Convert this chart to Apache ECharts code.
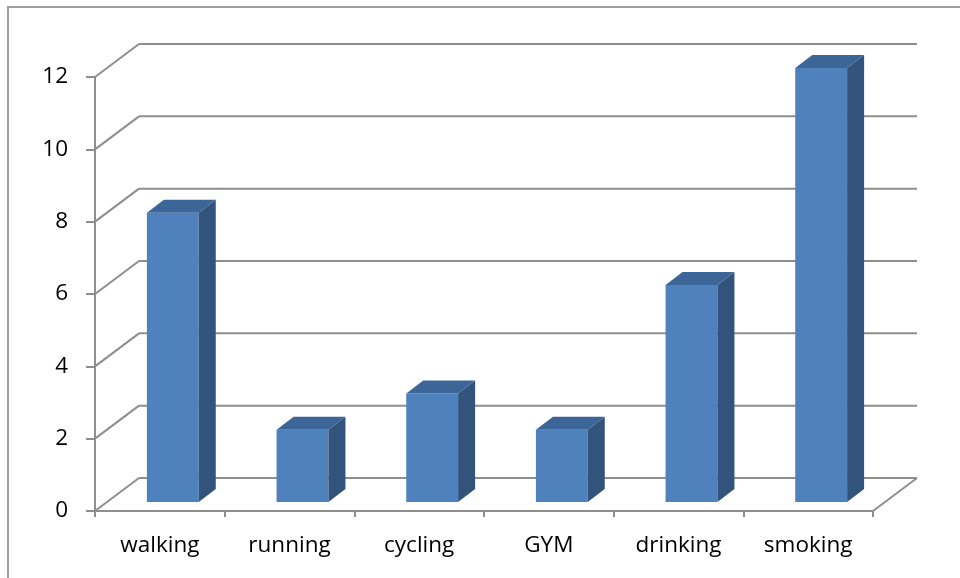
<!DOCTYPE html>
<html>
<head>
<meta charset="utf-8">
<script src="https://cdn.jsdelivr.net/npm/echarts@6/dist/echarts.min.js"></script>
<style>
  html, body { margin: 0; padding: 0; background: #ffffff; }
  #chart { width: 960px; height: 578px; }
</style>
</head>
<body>
<div id="chart"></div>
<script>
// Activities and their counts
const categories = ['walking', 'running', 'cycling', 'GYM', 'drinking', 'smoking'];
const counts = [8, 2, 3, 2, 6, 12];
// Value axis ticks
const yTicks = [0, 2, 4, 6, 8, 10, 12];

// Oblique depth of the 3D box (pixels): back wall offset and bar placement
const BACK = [44, -33];
const BAR_FRONT = [13, -9];
const BAR_DEPTH = [17, -13];

const FACE = '#4F81BD';
const TOP = '#3D6698';
const SIDE = '#32537B';
const WALL = '#8e8e8e';
const FONT = 'Open Sans';

const chart = echarts.init(document.getElementById('chart'), null, { renderer: 'canvas' });

function renderWall(params, api) {
  const cs = params.coordSys;
  const v = api.value(1);
  const y = api.coord([0, v])[1];
  const x0 = cs.x;
  const x1 = cs.x + cs.width;
  const style = { stroke: WALL, lineWidth: 2 };
  const children = [
    { type: 'line', shape: { x1: x0, y1: y, x2: x0 + BACK[0], y2: y + BACK[1] }, style },
    { type: 'line', shape: { x1: x0 + BACK[0], y1: y + BACK[1], x2: x1 + BACK[0], y2: y + BACK[1] }, style }
  ];
  if (v === 0) {
    children.push({ type: 'line', shape: { x1: x1, y1: y, x2: x1 + BACK[0], y2: y + BACK[1] }, style });
  }
  return { type: 'group', children };
}

function renderBar(params, api) {
  const i = api.value(0);
  const v = api.value(1);
  const base = api.coord([i, 0]);
  const top = api.coord([i, v]);
  const w = api.size([1, 0])[0] * 0.4;
  const xl = base[0] - w / 2 + BAR_FRONT[0];
  const xr = xl + w;
  const yb = base[1] + BAR_FRONT[1];
  const yt = top[1] + BAR_FRONT[1];
  const dx = BAR_DEPTH[0], dy = BAR_DEPTH[1];
  return {
    type: 'group',
    children: [
      { type: 'rect', shape: { x: xl, y: yt, width: w, height: yb - yt }, style: { fill: FACE } },
      { type: 'polygon', shape: { points: [[xr, yt], [xr + dx, yt + dy], [xr + dx, yb + dy], [xr, yb]] }, style: { fill: SIDE } },
      { type: 'polygon', shape: { points: [[xl, yt], [xl + dx, yt + dy], [xr + dx, yt + dy], [xr, yt]] }, style: { fill: TOP } }
    ]
  };
}

chart.setOption({
  animation: false,
  backgroundColor: '#ffffff',
  graphic: [
    { type: 'rect', shape: { x: 8, y: 7, width: 2000, height: 2000 }, style: { fill: 'none', stroke: '#a0a0a0', lineWidth: 2 }, z: -10 }
  ],
  grid: { left: 95, right: 87, top: 77, bottom: 67 },
  xAxis: {
    type: 'category',
    data: categories,
    axisLine: { show: true, lineStyle: { color: WALL, width: 2 } },
    axisTick: { show: true, length: 6, lineStyle: { color: WALL, width: 2 } },
    axisLabel: { color: '#000', fontFamily: FONT, fontSize: 22.5, margin: 23 },
    splitLine: { show: false }
  },
  yAxis: {
    type: 'value',
    min: 0, max: 12, interval: 2,
    axisLine: { show: true, lineStyle: { color: WALL, width: 2 } },
    axisTick: { show: true, length: 9, lineStyle: { color: WALL, width: 2 } },
    axisLabel: { color: '#000', fontFamily: FONT, fontSize: 22.5, margin: 27 },
    splitLine: { show: false }
  },
  series: [
    {
      type: 'custom',
      renderItem: renderWall,
      data: yTicks.map(v => [0, v]),
      clip: false,
      z: 1,
      silent: true
    },
    {
      type: 'custom',
      renderItem: renderBar,
      data: categories.map((c, i) => [i, counts[i]]),
      clip: false,
      z: 2
    }
  ]
});
</script>
</body>
</html>
